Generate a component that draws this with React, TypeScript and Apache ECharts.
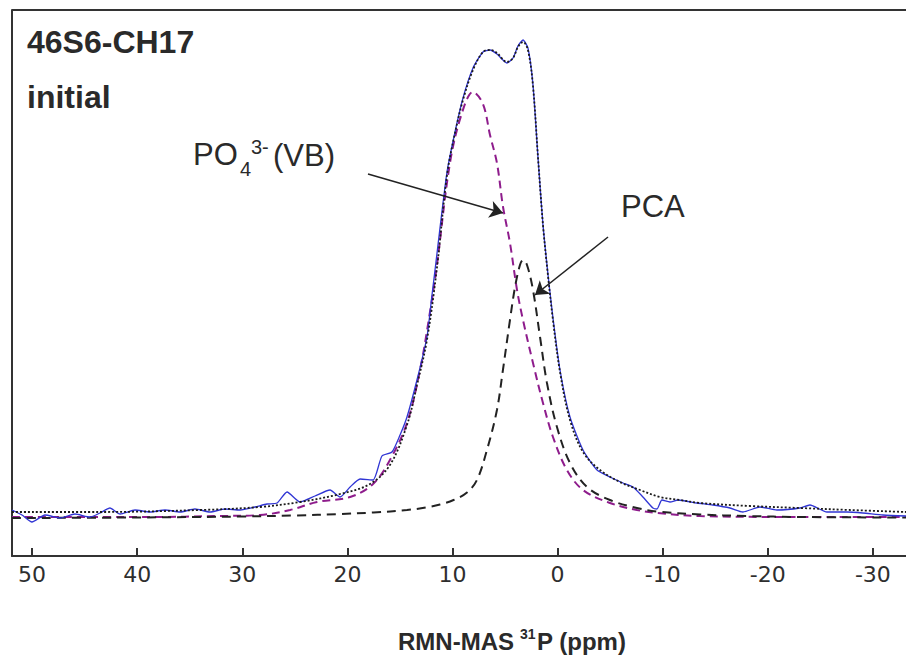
import React, { useEffect, useRef } from "react";
import * as echarts from "echarts";

// Experimental spectrum (blue, noisy)
const blueX = [51.91, 50.96, 50.01, 48.77, 47.34, 45.92, 44.49, 43.54, 42.59, 41.63, 40.21, 38.78, 37.35, 35.92, 34.5, 33.07, 31.64, 30.21, 28.79, 27.64, 26.69, 25.74, 24.5, 23.08, 21.65, 20.7, 19.74, 18.79, 17.56, 16.71, 15.76, 14.99, 14.33, 13.38, 12.43, 11.95, 11.57, 11.19, 10.52, 9.76, 9.0, 8.05, 7.1, 6.43, 5.77, 4.82, 4.24, 3.77, 3.29, 2.82, 2.34, 1.86, 1.39, 0.91, 0.44, -0.23, -1.18, -2.42, -3.75, -4.98, -6.22, -7.17, -8.12, -9.07, -9.45, -9.93, -10.69, -11.45, -13.26, -14.78, -16.4, -17.64, -19.25, -20.87, -23.06, -24.01, -25.63, -27.53, -29.05, -30.96, -33.15];
const blueY = [1.4, 0.4, -1.0, 0.4, -0.2, 0.6, 0.0, 0.8, 1.8, 0.6, 1.4, 1.0, 1.4, 1.0, 1.6, 1.0, 1.6, 1.4, 2.0, 2.6, 2.8, 5.0, 3.0, 4.2, 5.4, 4.0, 6.0, 7.6, 7.4, 12.2, 13.0, 16.4, 20.0, 27.4, 36.0, 44.4, 51.0, 57.8, 69.0, 77.0, 83.8, 89.8, 93.0, 93.4, 92.6, 90.8, 91.8, 94.2, 95.4, 93.8, 86.4, 71.8, 58.4, 48.4, 39.8, 29.4, 20.0, 13.4, 9.4, 8.0, 6.8, 6.0, 4.0, 1.8, 1.6, 3.4, 3.0, 3.4, 2.8, 2.4, 1.8, 1.0, 2.0, 1.4, 1.8, 2.4, 1.0, 1.0, 0.8, 0.4, 0.2];

// Total fit (black dotted)
const fitX = [51.91, 43.54, 34.03, 28.31, 24.5, 20.7, 17.85, 15.95, 14.33, 13.38, 12.43, 11.48, 10.52, 9.76, 9.0, 8.05, 7.1, 6.43, 5.77, 4.82, 4.24, 3.77, 3.29, 2.82, 2.34, 1.86, 1.39, 0.91, 0.44, -0.23, -1.18, -2.42, -4.03, -5.94, -7.84, -9.74, -11.65, -13.55, -18.31, -23.06, -27.82, -33.15];
const fitY = [1.0, 1.0, 1.4, 2.0, 3.0, 4.6, 6.6, 10.4, 18.4, 26.4, 35.4, 49.8, 68.4, 76.8, 83.4, 89.4, 93.0, 93.4, 92.8, 91.0, 91.8, 94.0, 95.0, 93.4, 86.2, 71.8, 58.4, 48.2, 39.4, 29.0, 19.4, 13.0, 9.4, 7.0, 5.4, 4.0, 3.4, 2.8, 2.2, 1.8, 1.4, 1.0];

// PO4 3- (VB) component (purple dashed)
const vbX = [51.91, 38.78, 32.12, 28.31, 25.45, 22.89, 19.74, 17.56, 15.95, 14.33, 13.09, 12.14, 11.48, 10.24, 9.1, 8.05, 7.1, 6.43, 5.77, 5.19, 4.53, 3.86, 3.29, 2.34, 1.39, 0.44, -0.89, -2.42, -4.98, -7.55, -9.45, -13.55, -23.06, -33.15];
const vbY = [0.0, 0.0, 0.2, 0.4, 1.4, 3.0, 4.0, 6.6, 11.4, 18.8, 29.4, 41.0, 50.4, 70.8, 80.8, 85.0, 82.6, 76.4, 70.8, 62.0, 54.8, 45.4, 39.4, 30.8, 22.8, 16.0, 9.4, 5.4, 2.8, 1.4, 0.8, 0.2, 0.0, 0.0];

// PCA component (black dashed)
const pcaX = [51.91, 40.0, 30.0, 25.0, 20.7, 17.5, 14.33, 12.5, 11.19, 9.9, 8.62, 7.67, 6.72, 5.77, 5.2, 4.53, 4.05, 3.58, 3.29, 2.91, 2.34, 1.67, 1.01, 0.06, -1.18, -2.8, -4.98, -7.55, -9.45, -13.55, -18.0, -23.06, -33.15];
const pcaY = [-0.2, -0.1, 0.1, 0.3, 0.6, 0.9, 1.4, 1.9, 2.5, 3.4, 4.9, 7.4, 13.4, 21.4, 29.4, 39.4, 46.0, 50.4, 51.4, 50.4, 45.4, 36.0, 26.8, 18.0, 10.8, 6.0, 3.4, 1.8, 1.1, 0.5, 0.2, 0.0, -0.1];

const tickValues = [50, 40, 30, 20, 10, 0, -10, -20, -30];

const zip = (xs: number[], ys: number[]) => xs.map((x, i) => [x, ys[i]]);

export default function App() {
  const ref = useRef<HTMLDivElement>(null);
  useEffect(() => {
    if (!ref.current) return;
    const chart = echarts.init(ref.current, undefined, { renderer: "svg" });
    const txt = (x: number, y: number, text: string, size: number, weight: string, family = "Liberation Sans, Arial, sans-serif") => ({
      type: "text",
      x,
      y,
      silent: true,
      style: {
        text,
        fill: "#2a2a2a",
        font: `${weight} ${size}px ${family}`,
        textAlign: "left",
        textVerticalAlign: "middle",
      },
    });
    chart.setOption({
      animation: false,
      backgroundColor: "#ffffff",
      grid: { left: 12, right: 0, top: 10, bottom: 100, containLabel: false },
      xAxis: {
        type: "value",
        inverse: true,
        min: -33.15,
        max: 51.91,
        axisLine: { show: true, onZero: false, lineStyle: { color: "#333", width: 2 } },
        axisTick: { show: true, inside: true, length: 8, customValues: tickValues, lineStyle: { color: "#333", width: 2 } },
        axisLabel: {
          show: true,
          customValues: tickValues,
          margin: 7,
          color: "#2e2e2e",
          fontSize: 22,
          fontFamily: "DejaVu Sans, sans-serif",
        },
        splitLine: { show: false },
      },
      yAxis: {
        type: "value",
        min: -7.8,
        max: 101.4,
        axisLine: { show: true, onZero: false, lineStyle: { color: "#333", width: 2 } },
        axisTick: { show: false },
        axisLabel: { show: false },
        splitLine: { show: false },
      },
      series: [
        {
          name: "PO4(VB)",
          type: "line",
          data: zip(vbX, vbY),
          showSymbol: false,
          smooth: 0.35,
          lineStyle: { color: "#8e1c8c", width: 2, type: [8, 5] },
          z: 2,
        },
        {
          name: "PCA",
          type: "line",
          data: zip(pcaX, pcaY),
          showSymbol: false,
          smooth: 0.35,
          lineStyle: { color: "#222", width: 2, type: [9, 6] },
          z: 2,
          markLine: {
            silent: true,
            symbol: ["none", "arrow"],
            symbolSize: 13,
            label: { show: false },
            lineStyle: { color: "#222", width: 1.5, type: "solid" },
            data: [
              [{ coord: [18.04, 68.6] }, { coord: [5.2, 60.8] }],
              [{ coord: [-4.8, 56.0] }, { coord: [2.15, 44.4] }],
            ],
          },
        },
        {
          name: "experimental",
          type: "line",
          data: zip(blueX, blueY),
          showSymbol: false,
          smooth: 0.2,
          lineStyle: { color: "#3035d4", width: 1.3 },
          z: 3,
        },
        {
          name: "fit",
          type: "line",
          data: zip(fitX, fitY),
          showSymbol: false,
          smooth: 0.35,
          lineStyle: { color: "#1a1a1a", width: 1.8, type: [2, 2] },
          z: 4,
        },
      ],
      graphic: [
        { type: "line", silent: true, shape: { x1: 12, y1: 10, x2: 906, y2: 10 }, style: { stroke: "#333", lineWidth: 2 } },
        txt(27, 42, "46S6-CH17", 32, "bold"),
        txt(27, 97, "initial", 32, "bold"),
        txt(193, 154, "PO", 31, "normal"),
        txt(240, 169, "4", 20, "normal"),
        txt(251, 147, "3-", 20, "normal"),
        txt(273, 155, "(VB)", 31, "normal"),
        txt(621, 206, "PCA", 31, "normal"),
        txt(398, 641, "RMN-MAS", 24, "bold"),
        txt(520, 634, "31", 14, "bold"),
        txt(537, 641, "P (ppm)", 24, "bold"),
      ],
    });
    return () => chart.dispose();
  }, []);
  return <div ref={ref} style={{ position: "absolute", left: 0, top: 0, width: 906, height: 656 }} />;
}
